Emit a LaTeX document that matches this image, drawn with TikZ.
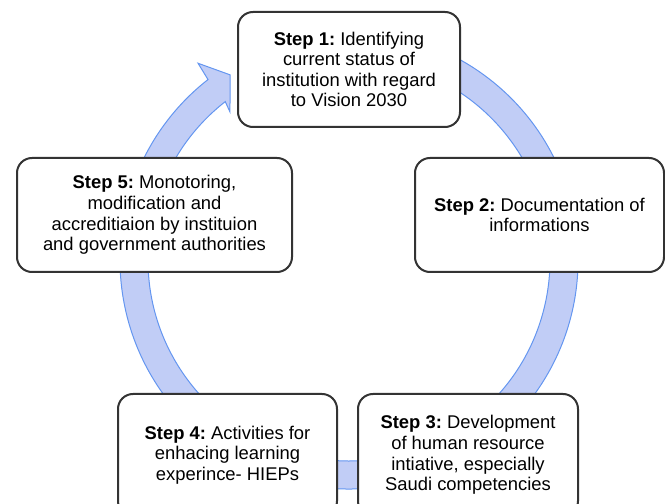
\documentclass[tikz,border=0pt]{standalone}
\usepackage{fontspec}
\setmainfont{Liberation Sans}
\frenchspacing

\definecolor{ringfill}{RGB}{193,205,246}
\definecolor{ringline}{RGB}{100,150,240}

\tikzset{
  stepbox/.style={draw=black!80, line width=1pt, rounded corners=7.5pt, fill=white,
    align=center, inner sep=0pt, font=\fontsize{9.2}{10.3}\selectfont},
}

\begin{document}
\begin{tikzpicture}[x=0.5pt, y=0.5pt]
    \clip (0,0) rectangle (665,504);

    % Cycle arrow (drawn first, boxes sit on top of it)
    \begin{scope}[shift={(349,244)}]
        \filldraw[fill=ringfill, draw=ringline, line width=0.5pt, line join=miter]
            (100:229) arc[start angle=100, end angle=-232, radius=229]
            -- (127.5:248) -- (122.7:220) -- (128.8:190) -- (128:201)
            arc[start angle=-232, end angle=100, radius=201] -- cycle;
    \end{scope}

    % Step boxes
    \node[stepbox, minimum width=111pt, minimum height=57.5pt] (step1) at (349,434.5)
        {\textbf{Step 1:} Identifying\\current status of\\institution with regard\\to Vision 2030};
    \node[stepbox, minimum width=124.5pt, minimum height=57pt] (step2) at (539.5,289)
        {\textbf{Step 2:} Documentation of\\informations};
    \node[stepbox, minimum width=110pt, minimum height=61pt] (step3) at (468,49)
        {\textbf{Step 3:} Development\\of human resource\\intiative, especially\\Saudi competencies};
    \node[stepbox, minimum width=109.5pt, minimum height=61pt] (step4) at (227.5,49)
        {\textbf{Step 4:} Activities for\\enhacing learning\\experince- HIEPs};
    \node[stepbox, minimum width=137.5pt, minimum height=57pt] (step5) at (154.5,289)
        {\textbf{Step 5:} Monotoring,\\modification and\\accreditiaion by instituion\\and government authorities};
\end{tikzpicture}
\end{document}
